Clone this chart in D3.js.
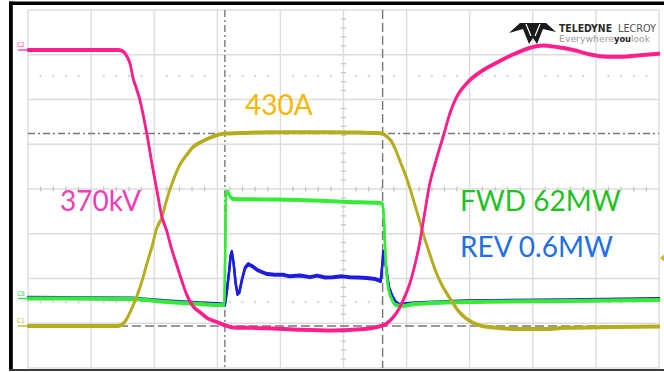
<!DOCTYPE html>
<html>
<head>
<meta charset="utf-8">
<script src="https://cdn.jsdelivr.net/npm/d3@7"></script>
<style>
  html, body { margin: 0; padding: 0; background: #fff; overflow: hidden; }
  svg { display: block; }
</style>
</head>
<body>
<svg id="scope" width="664" height="372"></svg>
<script>
// ---- Acquisition data ------------------------------------------------------
// Time is given in horizontal graticule divisions (10 across the screen).

// C2: DC-link voltage, kV
const voltageTime = [0, 0.82, 1.43, 1.51, 1.57, 1.62, 1.66, 1.72, 1.77, 1.88, 1.98, 2.04, 2.12, 2.20, 2.27, 2.36, 2.44, 2.52, 2.61, 2.73, 2.85, 3.0, 3.12, 3.25, 3.79, 4.31, 4.83, 5.34, 5.55, 5.66, 5.77, 5.88, 5.96, 6.04, 6.12, 6.20, 6.28, 6.36, 6.47, 6.58, 6.69, 6.80, 6.96, 7.16, 7.43, 7.69, 7.96, 8.16, 8.38, 8.64, 8.91, 9.18, 9.43, 9.70, 10];
const voltageKV = [370, 370, 370, 368, 361, 351, 334, 318, 304, 259, 210, 183, 147, 127, 105, 81, 60, 41, 27, 18, 10, 5, 1, -2, -3, -5, -6, -4, -1, 2, 10, 23, 37, 54, 78, 108, 148, 188, 223, 254, 286, 308, 326, 340, 353, 364, 373, 376, 374, 370, 364, 361, 361, 363, 365];

// C1: switched current, A
const currentTime = [0, 1.43, 1.49, 1.57, 1.65, 1.73, 1.81, 1.89, 1.97, 2.04, 2.12, 2.20, 2.30, 2.41, 2.52, 2.61, 2.73, 2.93, 3.12, 3.36, 3.88, 4.83, 5.26, 5.55, 5.62, 5.69, 5.77, 5.85, 5.93, 5.99, 6.05, 6.12, 6.20, 6.28, 6.36, 6.45, 6.56, 6.69, 6.83, 6.94, 7.04, 7.19, 7.35, 7.78, 8.19, 8.51, 9.06, 10];
const currentA = [0, 0, 3, 17, 41, 68, 102, 142, 180, 218, 242, 283, 325, 361, 383, 399, 410, 423, 430, 431, 433, 433, 432, 431, 429, 423, 410, 385, 356, 334, 309, 276, 238, 198, 164, 126, 91, 61, 32, 17, 8, 0, -3, -7, -7, -4, -3, -1];

// C8: forward power, MW
const fwdTime = [0, 0.82, 1.66, 2.20, 2.73, 3.07, 3.11, 3.14, 3.16, 3.20, 3.25, 3.68, 4.31, 5.10, 5.58, 5.62, 5.64, 5.67, 5.71, 5.77, 5.83, 5.93, 6.13, 6.93, 8.51, 10];
const fwdMW = [0.3, 0.3, 0, -1.9, -3.2, -3.8, -3.8, 66.4, 68, 65, 63.3, 63, 62.6, 61.4, 60.7, 60.1, 50.6, 23.4, 7, -0.6, -3.8, -4.4, -3.2, -1.9, -1.3, -0.6];

// Reverse power, MW
const revTime = [0, 1.66, 2.20, 2.73, 3.07, 3.12, 3.15, 3.19, 3.21, 3.23, 3.26, 3.29, 3.32, 3.35, 3.39, 3.44, 3.49, 3.55, 3.63, 3.71, 3.79, 3.91, 4.04, 4.15, 4.31, 4.47, 4.58, 4.71, 4.83, 4.98, 5.10, 5.23, 5.37, 5.50, 5.59, 5.62, 5.63, 5.66, 5.69, 5.72, 5.77, 5.82, 5.88, 6.13, 6.93, 8.51, 10];
const revMW = [0.03, 0.01, -0.06, -0.11, -0.14, -0.15, 0.18, 0.76, 1.12, 1.23, 0.91, 0.42, 0.13, 0.18, 0.5, 0.81, 0.91, 0.86, 0.76, 0.70, 0.65, 0.63, 0.63, 0.59, 0.61, 0.57, 0.61, 0.56, 0.57, 0.59, 0.57, 0.56, 0.55, 0.52, 0.47, 0.97, 1.23, 1.02, 0.63, 0.31, 0.08, -0.07, -0.15, -0.11, -0.06, -0.03, 0.0];

// Cursor settings
const cursorTimes = [3.12, 5.62];      // time cursors (divisions)
const cursorCurrents = [430, 0];       // current level cursors (A)

// Annotations
const voltageLabel = 370;  // kV
const currentLabel = 430;  // A
const fwdLabel = 62;       // MW
const revLabel = 0.6;      // MW

// ---- Layout --------------------------------------------------------------
const W = 664, H = 372;
const plot = { left: 28, right: 659, top: 10, bottom: 368 };

const svg = d3.select('#scope');

const x = d3.scaleLinear().domain([0, 10]).range([plot.left, plot.right]);
const yDiv = d3.scaleLinear().domain([-4, 4]).range([plot.bottom, plot.top]);

// vertical scale per channel: units per division and zero position in divisions
function channelScale(perDiv, zeroDiv) {
  return d3.scaleLinear()
    .domain([(-4 - zeroDiv) * perDiv, (4 - zeroDiv) * perDiv])
    .range([plot.bottom, plot.top]);
}
const yVolt = channelScale(60, -3.06);
const yCurr = channelScale(100, -3.06);
const yFwd = channelScale(28.3, -2.458);
const yRev = channelScale(1.167, -2.458);

// ---- Frame -----------------------------------------------------------------
svg.append('rect').attr('width', W).attr('height', H).attr('fill', '#fff');

// ---- Graticule -------------------------------------------------------------
const grid = svg.append('g').attr('stroke', '#dcdcdc').attr('stroke-width', 1.4).attr('fill', 'none');
grid.selectAll('line.v').data(d3.range(0, 11)).join('line')
  .attr('x1', d => x(d)).attr('x2', d => x(d))
  .attr('y1', plot.top).attr('y2', plot.bottom);
grid.selectAll('line.h').data(d3.range(-4, 5)).join('line')
  .attr('x1', plot.left).attr('x2', plot.right)
  .attr('y1', d => yDiv(d)).attr('y2', d => yDiv(d));

// minor ticks on the centre axes
const minorX = d3.range(0, 10.001, 0.2).filter(d => Math.abs(d - Math.round(d)) > 1e-6);
const minorY = d3.range(-4, 4.001, 0.2).filter(d => Math.abs(d - Math.round(d)) > 1e-6);
const ticks = svg.append('g').attr('stroke', '#c4c4c4').attr('stroke-width', 1.2);
ticks.selectAll('line.tx').data(minorX).join('line')
  .attr('x1', d => x(d)).attr('x2', d => x(d))
  .attr('y1', yDiv(0) - 2.5).attr('y2', yDiv(0) + 2.5);
ticks.selectAll('line.ty').data(minorY).join('line')
  .attr('x1', x(5) - 2.5).attr('x2', x(5) + 2.5)
  .attr('y1', d => yDiv(d)).attr('y2', d => yDiv(d));

// dotted reference rows
const dots = svg.append('g').attr('fill', '#d2d2d2');
[2.53, -2.53].forEach(r => {
  dots.selectAll(null).data(minorX).join('rect')
    .attr('x', d => x(d) - 1).attr('y', yDiv(r) - 1)
    .attr('width', 2).attr('height', 2);
});

// ---- Cursors ---------------------------------------------------------------
const cur = svg.append('g').attr('stroke', '#777').attr('stroke-width', 1.4).attr('fill', 'none');
const dashDot = '7,3,2,3', dashed = '9,4';
cur.append('line')
  .attr('x1', x(cursorTimes[0])).attr('x2', x(cursorTimes[0]))
  .attr('y1', plot.top).attr('y2', plot.bottom).attr('stroke-dasharray', dashDot);
cur.append('line')
  .attr('x1', x(cursorTimes[1])).attr('x2', x(cursorTimes[1]))
  .attr('y1', plot.top).attr('y2', plot.bottom).attr('stroke-dasharray', dashed);
cur.append('line')
  .attr('x1', plot.left).attr('x2', plot.right)
  .attr('y1', yCurr(cursorCurrents[0])).attr('y2', yCurr(cursorCurrents[0]))
  .attr('stroke-dasharray', dashDot);
cur.append('line')
  .attr('x1', plot.left).attr('x2', plot.right)
  .attr('y1', yCurr(cursorCurrents[1])).attr('y2', yCurr(cursorCurrents[1]))
  .attr('stroke-dasharray', dashed);

// ---- Traces ----------------------------------------------------------------
function zip(t, v) { return t.map((d, i) => [d, v[i]]); }

// each trace is stroked twice with a small vertical offset so flat parts read
// thicker than steep edges, like a noisy sampled signal
function trace(points, yScale, color, curve) {
  const line = d3.line().x(d => x(d[0])).y(d => yScale(d[1])).curve(curve);
  const g = svg.append('g').attr('fill', 'none').attr('stroke', color)
    .attr('stroke-width', 2.4).attr('stroke-linejoin', 'round').attr('stroke-linecap', 'round');
  [-0.8, 0.8].forEach(dy => {
    g.append('path').attr('d', line(points)).attr('transform', `translate(0,${dy})`);
  });
}

const revPts = zip(revTime, revMW);
const fwdPts = zip(fwdTime, fwdMW);
const currPts = zip(currentTime, currentA);
const voltPts = zip(voltageTime, voltageKV);

trace(revPts, yRev, '#1d1de2', d3.curveLinear);
trace(fwdPts, yFwd, '#35ec35', d3.curveMonotoneX);
trace(currPts, yCurr, '#b5ad1e', d3.curveMonotoneX);
trace(voltPts, yVolt, '#ff1f8c', d3.curveMonotoneX);

// ---- Channel markers ------------------------------------------------------
const markers = [
  { name: 'C2', color: '#ff3f9f', y: yVolt(voltageKV[0]) },
  { name: 'C8', color: '#33dd55', y: yFwd(fwdMW[0]) },
  { name: 'C1', color: '#bdb52a', y: yCurr(currentA[0]) }
];
markers.forEach(m => {
  svg.append('line').attr('x1', 18).attr('x2', plot.left).attr('y1', m.y).attr('y2', m.y)
    .attr('stroke', m.color).attr('stroke-width', 1.4);
  svg.append('text').attr('x', 17).attr('y', m.y - 3).text(m.name)
    .attr('font-family', 'DejaVu Sans Condensed, DejaVu Sans').attr('font-size', 6.5)
    .attr('fill', m.color);
});

// trigger level marker on the right edge
svg.append('path')
  .attr('d', d3.line()([[plot.right + 1, 258], [W, 254.5], [W, 261.5]]) + 'Z')
  .attr('fill', '#c9b81c');

// ---- Annotations -----------------------------------------------------------
const font = 'Lato, "Open Sans", sans-serif';
function label(str, px, py, color) {
  svg.append('text').attr('x', px).attr('y', py).text(str)
    .attr('font-family', font).attr('font-size', 28).attr('fill', color);
}
label(`${currentLabel}A`, 245, 115, '#f5b700');
label(`${voltageLabel}kV`, 60, 211, '#f03cb8');
label(`FWD ${fwdLabel}MW`, 460, 211, '#22c122');
label(`REV ${revLabel}MW`, 460, 257, '#1f6fe6');

// ---- Brand mark --------------------------------------------------------------
const logo = svg.append('g');
logo.append('path')
  .attr('d', 'M509,33 L520,23 L546,23 L556,32 L543,29 L537,44 L533,38 L529,44 L523,29 Z')
  .attr('fill', '#1a1a1a');
logo.append('path')
  .attr('d', 'M526,24 L531,36 M540,24 L535,36')
  .attr('stroke', '#fff').attr('stroke-width', 1.2);
logo.append('text').attr('x', 559).attr('y', 32).text('TELEDYNE')
  .attr('font-family', 'DejaVu Sans').attr('font-weight', 'bold').attr('font-size', 11)
  .attr('textLength', 53).attr('lengthAdjust', 'spacingAndGlyphs').attr('fill', '#2a2a2a');
logo.append('text').attr('x', 618).attr('y', 32).text('LECROY')
  .attr('font-family', 'DejaVu Sans').attr('font-size', 11)
  .attr('textLength', 38).attr('lengthAdjust', 'spacingAndGlyphs').attr('fill', '#555');
const tag = [
  { s: 'Everywhere', x0: 559, w: 55, c: '#9a9a9a', b: 'normal' },
  { s: 'you', x0: 614, w: 17, c: '#222', b: 'bold' },
  { s: 'look', x0: 631, w: 19, c: '#9a9a9a', b: 'normal' }
];
tag.forEach(t => {
  logo.append('text').attr('x', t.x0).attr('y', 41.5).text(t.s)
    .attr('font-family', 'DejaVu Sans').attr('font-size', 8.5).attr('font-weight', t.b)
    .attr('textLength', t.w).attr('lengthAdjust', 'spacingAndGlyphs').attr('fill', t.c);
});

// ---- Screen bezel ----------------------------------------------------------
svg.append('rect').attr('x', 9).attr('y', 1.5).attr('width', W - 9).attr('height', 3.5).attr('fill', '#000');
svg.append('rect').attr('x', 9).attr('y', 1.5).attr('width', 3.8).attr('height', 369).attr('fill', '#000');
svg.append('rect').attr('x', 9).attr('y', 369).attr('width', W - 9).attr('height', 2).attr('fill', '#3a3a3a');
</script>
</body>
</html>
